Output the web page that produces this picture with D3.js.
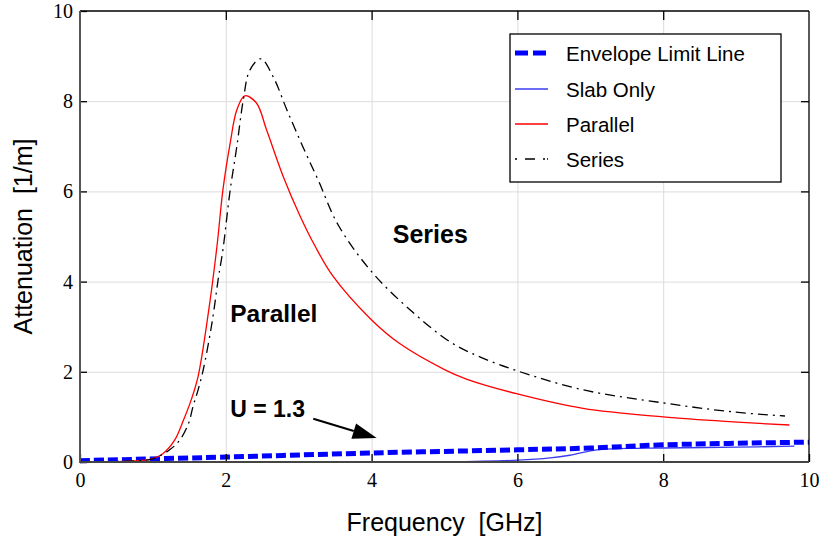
<!DOCTYPE html>
<html>
<head>
<meta charset="utf-8">
<script src="https://cdn.jsdelivr.net/npm/d3@7"></script>
<style>
    body { margin: 0; background: #fff; }
    svg { display: block; }
    .tick text { font-family: "Liberation Serif", "Times New Roman", serif; font-size: 20px; fill: #000; }
    .grid line { stroke: #dcdcdc; stroke-width: 1; }
    .grid .domain { display: none; }
</style>
</head>
<body>
<svg id="chart" width="823" height="541"></svg>
<script>
// values
var parallelFreq = [0, 0.5, 0.8, 0.96, 1.14, 1.3, 1.42, 1.53, 1.62, 1.76, 1.88, 1.96, 2.06, 2.15, 2.26, 2.42, 2.56, 2.79, 3.02, 3.22, 3.47, 4.0, 4.39, 5.0, 5.3, 6.0, 6.9, 8.0, 8.96, 9.73];
var parallelAtt = [0, 0.01, 0.03, 0.06, 0.19, 0.49, 0.93, 1.4, 1.9, 3.3, 4.8, 6.03, 7.07, 7.8, 8.12, 7.96, 7.36, 6.32, 5.45, 4.8, 4.12, 3.15, 2.62, 2.05, 1.84, 1.51, 1.19, 1.0, 0.89, 0.82];

var seriesFreq = [0, 0.5, 0.8, 1.0, 1.23, 1.37, 1.49, 1.55, 1.62, 1.69, 1.81, 1.9, 1.96, 2.06, 2.15, 2.24, 2.33, 2.48, 2.65, 2.84, 3.06, 3.27, 3.54, 4.0, 4.53, 5.08, 5.5, 6.0, 6.9, 8.0, 8.96, 9.67];
var seriesAtt = [0, 0.01, 0.03, 0.07, 0.27, 0.49, 0.86, 1.23, 1.6, 2.04, 3.08, 4.1, 4.7, 6.03, 6.98, 8.03, 8.69, 8.94, 8.54, 7.8, 6.98, 6.24, 5.26, 4.22, 3.37, 2.66, 2.32, 2.02, 1.6, 1.31, 1.11, 1.02];

var slabFreq = [5.0, 6.0, 6.45, 6.72, 7.09, 7.5, 8.0, 9.0, 9.8];
var slabAtt = [0, 0.04, 0.09, 0.15, 0.27, 0.3, 0.31, 0.33, 0.35];

var envelopeFreq = [0, 2, 4, 6, 7, 8, 10];
var envelopeAtt = [0.03, 0.11, 0.2, 0.27, 0.31, 0.38, 0.44];

var xTicks = [0, 2, 4, 6, 8, 10];
var yTicks = [0, 2, 4, 6, 8, 10];

var legendLabels = ["Envelope Limit Line", "Slab Only", "Parallel", "Series"];

var margin = { top: 11, right: 14, bottom: 79, left: 80 };
var width = 823 - margin.left - margin.right;
var height = 541 - margin.top - margin.bottom;

var sans = "'Liberation Sans', Arial, Helvetica, sans-serif";

var svg = d3.select("#chart");
var g = svg.append("g").attr("transform", "translate(" + margin.left + "," + margin.top + ")");

var x = d3.scaleLinear().domain([0, 10]).range([0, width]);
var y = d3.scaleLinear().domain([0, 10]).range([height, 0]);

drawGrid();
drawLines();
drawFrame();
drawLabels();
drawLegend();

function toPoints(xs, ys) {
    return xs.map(function(d, i) { return [d, ys[i]]; });
}

function drawGrid() {
    g.append("g").attr("class", "grid")
        .attr("transform", "translate(0," + height + ")")
        .call(d3.axisBottom(x).tickValues([2, 4, 6, 8]).tickSize(-height).tickFormat(""));
    g.append("g").attr("class", "grid")
        .call(d3.axisLeft(y).tickValues([2, 4, 6, 8]).tickSize(-width).tickFormat(""));
}

function drawLines() {
    var line = d3.line()
        .x(function(d) { return x(d[0]); })
        .y(function(d) { return y(d[1]); })
        .curve(d3.curveCatmullRom.alpha(0.5));

    g.append("path").datum(toPoints(slabFreq, slabAtt))
        .attr("d", line).attr("fill", "none")
        .attr("stroke", "#3b3bf0").attr("stroke-width", 1.3);

    g.append("path").datum(toPoints(envelopeFreq, envelopeAtt))
        .attr("d", line).attr("fill", "none")
        .attr("stroke", "#0000ff").attr("stroke-width", 5)
        .attr("stroke-dasharray", "10,4");

    g.append("path").datum(toPoints(parallelFreq, parallelAtt))
        .attr("d", line).attr("fill", "none")
        .attr("stroke", "#ff0000").attr("stroke-width", 1.3);

    g.append("path").datum(toPoints(seriesFreq, seriesAtt))
        .attr("d", line).attr("fill", "none")
        .attr("stroke", "#000").attr("stroke-width", 1.3)
        .attr("stroke-dasharray", "10,5,2,5");
}

function drawFrame() {
    // inner ticks on all four sides
    var bottomAxis = g.append("g")
        .attr("transform", "translate(0," + height + ")")
        .call(d3.axisBottom(x).tickValues(xTicks).tickSizeInner(-8).tickSizeOuter(0).tickPadding(11));
    var leftAxis = g.append("g")
        .call(d3.axisLeft(y).tickValues(yTicks).tickSizeInner(-7).tickSizeOuter(0).tickPadding(7));
    var topAxis = g.append("g")
        .call(d3.axisTop(x).tickValues([2, 4, 6, 8]).tickSizeInner(-9).tickSizeOuter(0).tickFormat(""));
    var rightAxis = g.append("g")
        .attr("transform", "translate(" + width + ",0)")
        .call(d3.axisRight(y).tickValues([2, 4, 6, 8]).tickSizeInner(-8).tickSizeOuter(0).tickFormat(""));

    [bottomAxis, leftAxis, topAxis, rightAxis].forEach(function(a) {
        a.select(".domain").remove();
        a.selectAll(".tick line").attr("stroke", "#000").attr("stroke-width", 1.3);
    });

    g.append("line").attr("x1", 0).attr("x2", width).attr("y1", 0).attr("y2", 0)
        .attr("stroke", "#000").attr("stroke-width", 1.3);
    g.append("line").attr("x1", width).attr("x2", width).attr("y1", 0).attr("y2", height)
        .attr("stroke", "#000").attr("stroke-width", 1.3);
    g.append("line").attr("x1", 0).attr("x2", 0).attr("y1", 0).attr("y2", height + 1)
        .attr("stroke", "#555").attr("stroke-width", 2);
    g.append("line").attr("x1", 0).attr("x2", width).attr("y1", height).attr("y2", height)
        .attr("stroke", "#444").attr("stroke-width", 2);
}

function drawLabels() {
    svg.append("text")
        .attr("x", margin.left + width / 2).attr("y", 531)
        .attr("text-anchor", "middle")
        .style("font-family", sans).style("font-size", "25px")
        .attr("xml:space", "preserve")
        .text("Frequency  [GHz]");

    svg.append("text")
        .attr("transform", "translate(32," + (margin.top + height / 2) + ") rotate(-90)")
        .attr("text-anchor", "middle")
        .style("font-family", sans).style("font-size", "25px")
        .attr("xml:space", "preserve")
        .text("Attenuation  [1/m]");

    // annotations placed in data coordinates
    var notes = [
        { text: "Series", fx: 4.29, fa: 4.86, size: 25 },
        { text: "Parallel", fx: 2.06, fa: 3.11, size: 24.5 },
        { text: "U = 1.3", fx: 2.06, fa: 0.99, size: 23 }
    ];
    notes.forEach(function(n) {
        g.append("text")
            .attr("x", x(n.fx)).attr("y", y(n.fa))
            .style("font-family", sans).style("font-size", n.size + "px")
            .style("font-weight", "bold")
            .text(n.text);
    });

    // arrow pointing at the envelope line
    var x1 = x(3.2), y1 = y(0.96), x2 = x(4.07), y2 = y(0.53);
    var ang = Math.atan2(y2 - y1, x2 - x1);
    var headLen = 24, headW = 8;
    var bx = x2 - headLen * Math.cos(ang), by = y2 - headLen * Math.sin(ang);
    g.append("line").attr("x1", x1).attr("y1", y1).attr("x2", bx).attr("y2", by)
        .attr("stroke", "#000").attr("stroke-width", 2);
    g.append("path")
        .attr("d", "M" + x2 + "," + y2 +
            "L" + (bx - headW * Math.sin(ang)) + "," + (by + headW * Math.cos(ang)) +
            "L" + (bx + headW * Math.sin(ang)) + "," + (by - headW * Math.cos(ang)) + "Z")
        .attr("fill", "#000");
}

function drawLegend() {
    var lx = 510, ly = 34, lw = 271, lh = 148;
    var rows = [53, 89, 124, 159];
    var styles = [
        { stroke: "#0000ff", width: 5, dash: "13,5" },
        { stroke: "#3b3bf0", width: 1.3, dash: null },
        { stroke: "#ff0000", width: 1.3, dash: null },
        { stroke: "#000", width: 1.3, dash: "2,8,10,8,2" }
    ];

    svg.append("rect").attr("x", lx).attr("y", ly).attr("width", lw).attr("height", lh)
        .attr("fill", "#fff").attr("stroke", "#000").attr("stroke-width", 1.3);

    legendLabels.forEach(function(label, i) {
        var s = styles[i];
        var ln = svg.append("line")
            .attr("x1", 515).attr("x2", 548).attr("y1", rows[i]).attr("y2", rows[i])
            .attr("stroke", s.stroke).attr("stroke-width", s.width);
        if (s.dash) ln.attr("stroke-dasharray", s.dash);
        svg.append("text")
            .attr("x", 566).attr("y", rows[i] + 7.5)
            .style("font-family", sans).style("font-size", "20.5px")
            .text(label);
    });
}
</script>
</body>
</html>
